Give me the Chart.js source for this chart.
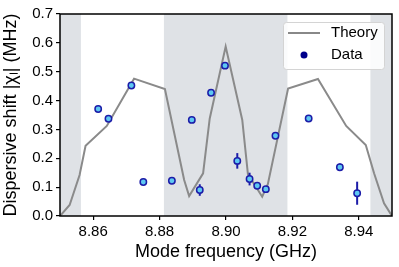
<!DOCTYPE html>
<html>
<head>
<meta charset="utf-8">
<script src="https://cdn.jsdelivr.net/npm/chart.js@4.4.0/dist/chart.umd.min.js"></script>
<style>
  body { margin: 0; background: #fff; }
  #box { width: 399px; height: 267px; }
</style>
</head>
<body>
<div id="box"><canvas id="myChart" width="399" height="267"></canvas></div>
<script>
// theory curve
const theoryFreq = [8.8500, 8.8529, 8.8559, 8.8577, 8.8641, 8.8723, 8.8816, 8.8874, 8.8889, 8.8931, 8.8951, 8.8999,
                    8.9049, 8.9066, 8.9109, 8.9126, 8.9187, 8.9277, 8.9362, 8.9421, 8.9446, 8.9476, 8.9500]
const theoryShift = [0.000, 0.038, 0.142, 0.243, 0.312, 0.476, 0.440, 0.125, 0.069, 0.148, 0.338, 0.587,
                     0.333, 0.145, 0.067, 0.110, 0.442, 0.475, 0.312, 0.246, 0.148, 0.044, 0.000]

// measured points
const dataFreq = [8.8615, 8.8646, 8.8715, 8.8751, 8.8837, 8.8897, 8.8921, 8.8955, 8.8997,
                  8.9034, 8.9071, 8.9094, 8.9120, 8.9149, 8.9249, 8.9343, 8.9395]
const dataShift = [0.371, 0.337, 0.452, 0.118, 0.122, 0.333, 0.090, 0.427, 0.521,
                   0.191, 0.128, 0.105, 0.093, 0.278, 0.338, 0.169, 0.079]
const dataErr = [0.004, 0.004, 0.004, 0.004, 0.004, 0.004, 0.020, 0.004, 0.004,
                 0.027, 0.022, 0.004, 0.004, 0.004, 0.004, 0.013, 0.040]

// grey bands
const bandStart = [8.8500, 8.8813, 8.9435]
const bandEnd = [8.8563, 8.9185, 8.9500]

const xTicks = [8.86, 8.88, 8.90, 8.92, 8.94]
const yTicks = [0, 0.1, 0.2, 0.3, 0.4, 0.5, 0.6, 0.7]

Chart.defaults.font.family = 'Liberation Sans, Arial, sans-serif'
Chart.defaults.color = '#000'

const bands = {
  id: 'bands',
  beforeDatasetsDraw(chart) {
    const c = chart.ctx, a = chart.chartArea, x = chart.scales.x
    c.save()
    c.fillStyle = '#dfe2e6'
    for (let i = 0; i < bandStart.length; i++) {
      const x1 = x.getPixelForValue(bandStart[i]), x2 = x.getPixelForValue(bandEnd[i])
      c.fillRect(x1, a.top, x2 - x1, a.bottom - a.top)
    }
    c.restore()
  }
}

const errBars = {
  id: 'errBars',
  beforeDatasetDraw(chart, args) {
    if (args.index !== 1) return
    const c = chart.ctx, x = chart.scales.x, y = chart.scales.y
    c.save()
    c.strokeStyle = '#1c1ca8'
    c.lineWidth = 2
    for (let i = 0; i < dataFreq.length; i++) {
      const px = x.getPixelForValue(dataFreq[i])
      c.beginPath()
      c.moveTo(px, y.getPixelForValue(dataShift[i] - dataErr[i]))
      c.lineTo(px, y.getPixelForValue(dataShift[i] + dataErr[i]))
      c.stroke()
    }
    c.restore()
  }
}

const frame = {
  id: 'frame',
  afterDraw(chart) {
    const c = chart.ctx, a = chart.chartArea
    c.save()
    c.strokeStyle = '#000'
    c.lineWidth = 1.5
    c.strokeRect(a.left, a.top, a.right - a.left, a.bottom - a.top)

    // legend box
    const lx = a.right - 109, ly = a.top + 8, lw = 101, lh = 47
    c.fillStyle = 'rgba(255,255,255,0.85)'
    c.strokeStyle = '#d4d4d4'
    c.lineWidth = 1
    c.beginPath()
    c.roundRect(lx + 0.5, ly + 0.5, lw, lh, 3)
    c.fill()
    c.stroke()
    c.strokeStyle = '#888'
    c.lineWidth = 2
    c.beginPath()
    c.moveTo(lx + 5, ly + 11)
    c.lineTo(lx + 37, ly + 11)
    c.stroke()
    c.fillStyle = '#00008b'
    c.beginPath()
    c.arc(lx + 21, ly + 33, 3.5, 0, Math.PI * 2)
    c.fill()
    c.fillStyle = '#000'
    c.font = '15px Liberation Sans, Arial, sans-serif'
    c.textBaseline = 'middle'
    c.fillText(chart.data.datasets[0].label, lx + 48, ly + 11)
    c.fillText(chart.data.datasets[1].label, lx + 48, ly + 33)
    c.restore()
  }
}

const ctx = document.getElementById('myChart')
const myChart = new Chart(ctx, {
  type: 'line',
  data: {
    datasets: [{
      label: 'Theory',
      data: theoryFreq.map((f, i) => ({x: f, y: theoryShift[i]})),
      borderColor: '#8a8a8a',
      borderWidth: 2,
      pointRadius: 0,
      tension: 0,
      order: 2
    }, {
      label: 'Data',
      type: 'scatter',
      data: dataFreq.map((f, i) => ({x: f, y: dataShift[i]})),
      backgroundColor: '#5ec8f2',
      borderColor: '#1c1ca8',
      borderWidth: 1.5,
      pointRadius: 3.2,
      order: 1
    }]
  },
  options: {
    responsive: false,
    animation: false,
    devicePixelRatio: 1,
    layout: { padding: { top: 14, right: 7, left: 0, bottom: 0 } },
    plugins: { legend: { display: false }, tooltip: { enabled: false } },
    scales: {
      x: {
        type: 'linear',
        min: 8.85,
        max: 8.95,
        afterBuildTicks: s => { s.ticks = xTicks.map(v => ({value: v})) },
        afterFit: s => { s.height = 51 },
        ticks: { font: { size: 15 }, padding: 3, callback: v => v.toFixed(2), maxRotation: 0 },
        grid: { drawOnChartArea: false, drawTicks: true, tickLength: 4, color: '#000', lineWidth: 1.2 },
        border: { display: false },
        title: { display: true, text: 'Mode frequency (GHz)', font: { size: 18 }, padding: { top: 2, bottom: 4 } }
      },
      y: {
        min: 0,
        max: 0.7,
        afterBuildTicks: s => { s.ticks = yTicks.map(v => ({value: v})) },
        afterFit: s => { s.width = 60 },
        ticks: { font: { size: 15 }, padding: 3, callback: v => v.toFixed(1) },
        grid: { drawOnChartArea: false, drawTicks: true, tickLength: 4, color: '#000', lineWidth: 1.2 },
        border: { display: false },
        title: { display: true, text: 'Dispersive shift |χₗ| (MHz)', font: { size: 18 }, padding: { top: 0, bottom: 2 } }
      }
    }
  },
  plugins: [bands, errBars, frame]
})
</script>
</body>
</html>
